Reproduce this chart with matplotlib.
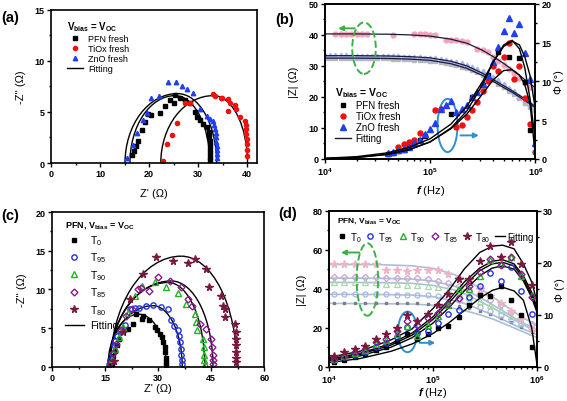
import numpy as np
import matplotlib
matplotlib.use('Agg')
import matplotlib.pyplot as plt
from matplotlib.patches import Arc, Ellipse
from matplotlib.lines import Line2D
from matplotlib.ticker import MultipleLocator, LogLocator, NullFormatter

plt.rcParams['font.family'] = ['Liberation Sans', 'DejaVu Sans']
plt.rcParams['font.weight'] = 'bold'
plt.rcParams['mathtext.fontset'] = 'custom'
plt.rcParams['mathtext.rm'] = 'Liberation Sans'
plt.rcParams['mathtext.it'] = 'Liberation Sans:italic:bold'
plt.rcParams['mathtext.bf'] = 'Liberation Sans:bold'
plt.rcParams['mathtext.default'] = 'regular'

nan = np.nan

# ---------------- (a) Nyquist, fresh devices ----------------
a_pfn_x = [16.6, 16.9, 17.3, 17.8, 18.5, 19.2, 19.7, 20.5, 22.2, 23.3, 24.3, 25.1, 25.3, 26.3, 27.3,
           28.4, 29.4, 29.7, 30.4, 31.1, 31.8, 32.2, 32.3, 32.4, 32.4, 32.4, 32.5, 32.5, 32.5]
a_pfn_y = [0.8, 1.2, 1.7, 2.2, 3.2, 4.0, 4.8, 4.7, 4.9, 5.6, 6.2, 5.9, 6.7, 6.4, 6.2,
           5.9, 5.0, 4.5, 4.2, 3.8, 3.5, 3.0, 2.6, 2.2, 1.8, 1.4, 1.0, 0.6, 0.3]
a_tio_x = [22.9, 23.7, 24.6, 25.8, 27.3, 28.3, 33.1, 33.5, 34.6, 34.8, 36.2, 36.5, 36.2, 37.6, 37.8,
           38.6, 39.6, 39.7, 39.8, 39.8, 39.9, 39.9, 40.0, 40.0]
a_tio_y = [0.2, 1.9, 2.7, 3.9, 5.9, 5.9, 6.8, 6.6, 6.4, 6.4, 6.3, 5.9, 5.1, 5.7, 5.3,
           4.5, 4.1, 3.7, 3.3, 2.8, 2.4, 1.9, 1.3, 0.7]
a_zno_x = [15.6, 16.8, 17.6, 18.8, 19.5, 20.3, 22.1, 23.9, 25.5, 26.7, 27.8, 28.9, 30.4, 31.8, 32.4,
           33.0, 33.3, 33.5, 33.6, 33.7, 33.7, 33.8, 33.8, 33.8, 33.8]
a_zno_y = [0.5, 1.8, 2.9, 4.2, 4.9, 6.4, 6.6, 7.9, 7.9, 7.5, 7.2, 6.9, 5.3, 4.6, 4.3,
           4.1, 3.7, 3.3, 2.9, 2.5, 2.1, 1.7, 1.3, 0.9, 0.5]
# fitted arcs: start, peak position, end, peak height  (PFN, TiOx, ZnO)
a_fit_start = [16.1, 22.4, 15.1]
a_fit_peak = [25.3, 33.1, 25.8]
a_fit_end = [32.4, 40.1, 33.8]
a_fit_h = [6.6, 6.6, 6.8]

# ---------------- (b) Bode, fresh devices ----------------
fb = [1.00e4, 1.12e4, 1.26e4, 1.41e4, 1.58e4, 1.78e4, 2.00e4, 2.24e4, 2.51e4, 2.82e4,
      3.16e4, 3.55e4, 3.98e4, 4.47e4, 5.01e4, 5.62e4, 6.31e4, 7.08e4, 7.94e4, 8.91e4,
      1.00e5, 1.12e5, 1.26e5, 1.41e5, 1.58e5, 1.78e5, 2.00e5, 2.24e5, 2.51e5, 2.82e5,
      3.16e5, 3.55e5, 3.98e5, 4.47e5, 5.01e5, 5.62e5, 6.31e5, 7.08e5, 7.94e5, 8.91e5, 1.00e6]
b_zno_z = [33.4, 33.4, 33.4, 33.4, 33.4, 33.3, 33.3, 33.3, 33.3, 33.3,
           33.2, 33.2, 33.2, 33.1, 33.1, 33.0, 33.0, 32.9, 32.8, 32.7,
           32.6, 32.4, 32.2, 32.0, 31.7, 31.3, 30.9, 30.4, 29.8, 29.1,
           28.3, 27.4, 26.4, 25.3, 24.2, 23.0, 21.8, 20.4, 19.0, 17.6, 16.3]
b_pfn_z = [32.6, 32.6, 32.6, 32.6, 32.6, 32.5, 32.5, 32.5, 32.5, 32.5,
           32.4, 32.4, 32.4, 32.3, 32.3, 32.2, 32.1, 32.0, 31.9, 31.8,
           31.7, 31.5, 31.3, 31.0, 30.7, 30.3, 29.8, 29.3, 28.7, 28.0,
           27.2, 26.3, 25.3, 24.3, 23.2, 22.0, 20.8, 19.5, 18.2, 16.8, 15.8]
b_tio_z = [nan, nan, 40.3, 40.3, 40.3, 40.3, 40.3, 40.3, 40.3, nan,
           nan, nan, nan, 40.0, nan, nan, nan, 40.2, 40.2, 40.2,
           40.1, 40.0, nan, 38.4, 38.3, 38.2, 38.0, 37.8, nan, 35.5,
           35.0, 34.4, 33.0, 31.6, 30.2, 29.0, 27.6, 26.1, 24.6, 23.3, 22.5]
b_zno_p = [nan, nan, nan, nan, nan, nan, nan, nan, nan, nan,
           nan, nan, 0.8, 0.9, 1.1, 1.3, 1.6, 2.0, 2.5, 3.2,
           3.9, 4.6, 6.5, 6.9, 7.5, 6.0, 6.5, 6.9, 8.0, 8.6,
           9.7, 10.7, 12.5, 14.4, 16.5, 18.2, 16.3, 17.4, 13.7, 10.3, 2.0]
b_pfn_p = [nan, nan, nan, nan, nan, nan, nan, nan, nan, nan,
           nan, nan, 0.7, 0.8, 1.0, 1.2, 1.5, 1.9, 2.4, 3.0,
           nan, nan, nan, nan, 5.8, nan, nan, nan, 8.0, nan,
           9.6, 10.8, nan, 13.8, nan, 13.1, nan, 13.0, 9.9, 3.7, nan]
b_tio_p = [nan, nan, nan, nan, nan, nan, nan, nan, nan, nan,
           nan, nan, nan, nan, 1.6, 1.9, 2.2, 2.5, 3.3, nan,
           nan, 6.3, 6.5, nan, nan, 4.1, 4.4, 5.4, 6.3, 7.3,
           8.8, 10.0, 12.0, 11.4, 13.1, 15.0, 10.3, 12.0, 7.8, 4.5, 0.9]
fb_fit = [1.00e4, 2.00e4, 3.98e4, 6.31e4, 1.00e5, 1.58e5, 2.24e5, 3.16e5, 3.98e5, 5.01e5,
          6.03e5, 7.08e5, 7.94e5, 8.91e5, 1.00e6]
b_pfn_zfit = [32.5, 32.5, 32.4, 32.2, 31.8, 30.7, 29.2, 26.9, 25.0, 23.0, 21.5, 20.0, 18.9, 17.7, 16.5]
b_tio_zfit = [40.3, 40.3, 40.2, 40.0, 39.6, 38.6, 37.3, 35.0, 33.0, 30.8, 28.8, 27.0, 25.6, 24.3, 23.0]
b_zno_zfit = [33.3, 33.3, 33.2, 33.0, 32.6, 31.5, 30.0, 27.6, 25.6, 23.6, 22.0, 20.5, 19.4, 18.2, 17.0]
b_pfn_pfit = [0.1, 0.3, 0.8, 1.5, 2.6, 4.5, 6.8, 10.0, 12.5, 14.5, 15.2, 14.7, 13.2, 10.8, 6.5]
b_tio_pfit = [0.05, 0.2, 0.6, 1.2, 2.2, 3.9, 5.8, 8.4, 10.2, 11.4, 11.5, 10.8, 9.6, 7.2, 0.5]
b_zno_pfit = [0.05, 0.2, 0.6, 1.2, 2.2, 4.0, 6.2, 9.6, 12.5, 14.7, 15.3, 14.2, 11.8, 7.8, 2.5]

# ---------------- (c) Nyquist, PFN aged ----------------
c_t0_x = [16.8, 17.0, 17.3, 17.7, 18.3, 19.0, 20.0, 21.5, 22.9, 23.6, 25.3, 25.7, 27.5, 29.0, 29.6,
          30.4, 31.0, 31.5, 31.8, 32.0, 32.1, 32.1, 32.2]
c_t0_y = [0.4, 0.9, 1.4, 2.0, 2.8, 3.6, 4.6, 4.9, 5.5, 6.8, 6.2, 6.6, 6.0, 5.1, 4.7,
          4.3, 3.8, 3.2, 2.5, 1.9, 1.2, 0.6, 0.2]
c_t95_x = [16.2, 16.5, 16.8, 17.4, 17.9, 18.4, 19.3, 20.5, 21.9, 23.5, 24.7, 26.5, 28.5, 30.8, 32.7,
           33.7, 34.6, 35.6, 36.0, 36.3, 36.5, 36.5, 36.6, 36.6]
c_t95_y = [0.3, 0.9, 1.7, 2.8, 3.4, 4.0, 4.6, 5.4, 7.5, 7.6, 7.6, 7.8, 8.0, 7.7, 7.5,
           6.0, 5.3, 4.7, 4.0, 3.2, 2.3, 1.5, 0.9, 0.4]
c_t90_x = [17.0, 17.8, 18.8, 20.0, 21.5, 23.3, 25.5, 29.0, 32.3, 35.6, 37.9, 40.3, 40.8, 41.1, 42.6,
           42.9, 43.1, 43.1, 43.2]
c_t90_y = [1.0, 2.3, 3.8, 5.2, 7.0, 9.2, 10.5, 10.9, 10.3, 9.6, 8.1, 6.8, 5.8, 4.7, 3.6,
           2.5, 1.5, 0.9, 0.4]
c_t85_x = [16.5, 17.2, 18.0, 19.5, 21.0, 22.5, 24.2, 25.2, 27.5, 29.9, 33.2, 36.5, 38.4, 39.5, 41.7,
           43.6, 45.0, 45.3, 45.5, 45.5, 45.6]
c_t85_y = [0.5, 1.8, 3.0, 4.8, 6.6, 7.5, 10.0, 10.2, 9.8, 11.6, 11.1, 10.3, 8.8, 7.8, 5.5,
           4.9, 3.6, 2.5, 1.5, 0.9, 0.4]
c_t80_x = [17.4, 20.0, 21.9, 25.8, 29.5, 34.2, 38.4, 40.3, 43.6, 44.5, 47.8, 48.3, 48.8, 48.8, 51.6,
           51.9, 52.1, 52.1, 52.1, 52.1, 51.9]
c_t80_y = [0.7, 4.5, 8.8, 12.0, 14.2, 13.7, 13.4, 13.9, 12.6, 10.3, 9.2, 7.9, 7.5, 6.4, 5.5,
           4.5, 3.6, 2.8, 1.9, 1.2, 0.6]
# fitted arcs (T0, T95, T90, T85, T80)
c_fit_start = [15.8, 16.0, 16.2, 16.3, 16.5]
c_fit_peak = [24.5, 28.5, 32.8, 33.7, 36.5]
c_fit_end = [32.3, 36.8, 43.2, 45.5, 52.3]
c_fit_h = [6.8, 7.9, 10.9, 11.1, 14.3]

# ---------------- (d) Bode, PFN aged ----------------
fd = [1.12e4, 1.41e4, 1.78e4, 2.24e4, 2.82e4, 3.55e4, 4.47e4, 5.62e4, 7.08e4, 8.91e4,
      1.12e5, 1.41e5, 1.78e5, 2.24e5, 2.82e5, 3.55e5, 4.47e5, 5.62e5, 7.08e5, 8.91e5]
d_t0_z = [32.6, 32.6, 32.6, 32.6, 32.6, 32.6, 32.6, 32.6, 32.5, 32.4,
          32.2, 31.8, 31.0, 30.0, 28.6, 27.0, 25.0, 22.8, 20.4, 18.0]
d_t95_z = [37.3, 37.3, 37.3, 37.3, 37.3, 37.1, 37.0, 36.9, 36.8, 36.6,
           36.3, 35.5, 34.3, 32.8, 30.8, 28.6, 26.5, 24.0, 21.8, 19.5]
d_t90_z = [43.3, 43.3, 43.3, 43.3, 43.3, 42.5, 42.3, 42.0, 41.8, 41.5,
           40.8, 39.5, 38.0, 36.0, 34.0, 31.5, 29.0, 26.0, 22.8, 20.0]
d_t85_z = [46.2, 46.2, 46.2, 46.2, 46.2, 45.6, 45.6, 45.6, 45.4, 45.0,
           44.2, 43.0, 41.5, 39.5, 37.2, 34.5, 31.5, 28.2, 24.8, 21.8]
d_t80_z = [52.6, 52.6, 52.6, 52.6, 52.6, 49.8, 49.8, 49.4, 49.8, 49.8,
           49.6, 47.7, 45.5, 43.5, 40.0, 36.5, 32.5, 28.5, 24.5, 19.5]
d_t0_p = [1.0, 1.4, 1.9, 2.4, 3.2, 3.9, 4.9, 6.3, 5.3, 6.3, 7.5, 7.9, 9.6, 11.8, 13.9, 13.6, 15.5, 12.9, 9.9, 3.8]
d_t95_p = [1.3, 1.8, 2.3, 2.9, 3.9, 4.6, 5.8, 7.6, 6.6, 6.8, 8.4, 10.2, 11.0, 13.4, 15.5, 18.0, 16.6, 19.2, 14.6, 10.2]
d_t90_p = [1.5, 2.0, 2.6, 3.3, 4.4, 5.1, 6.4, 7.8, 6.0, 8.0, 9.8, 11.8, 15.0, 15.0, 17.5, 20.5, 19.8, 21.2, 17.5, 13.9]
d_t85_p = [1.6, 2.1, 2.8, 3.5, 4.7, 5.4, 6.9, 8.8, 8.1, 9.4, 10.4, 12.1, 13.3, 15.5, 18.2, 20.8, 19.6, 21.2, 17.8, 13.4]
d_t80_p = [2.1, 2.8, 3.4, 4.0, 5.3, 6.3, 7.4, 10.0, 8.8, 10.1, 11.8, 14.1, 16.9, 16.9, 20.3, 23.2, 21.2, 24.0, 19.8, 15.7]
fd_zfit = [1.00e4, 3.16e4, 6.31e4, 1.00e5, 1.58e5, 2.00e5, 2.51e5, 3.16e5, 3.98e5, 5.01e5, 6.31e5, 7.94e5, 1.00e6]
d_t0_zfit = [32.5, 32.4, 32.2, 31.6, 30.0, 28.9, 27.5, 25.9, 24.0, 21.8, 19.5, 17.2, 15.0]
d_t95_zfit = [37.2, 37.1, 36.8, 36.0, 34.0, 32.5, 30.5, 28.3, 26.0, 23.5, 21.0, 18.7, 16.5]
d_t90_zfit = [43.3, 43.2, 42.8, 41.8, 39.5, 37.5, 35.0, 32.3, 29.5, 26.5, 23.5, 20.7, 18.0]
d_t85_zfit = [45.5, 45.4, 45.0, 44.0, 41.5, 39.5, 37.0, 34.2, 31.0, 27.8, 24.5, 21.6, 19.0]
d_t80_zfit = [52.5, 52.4, 51.8, 50.5, 47.5, 45.0, 42.0, 38.6, 35.0, 31.2, 27.5, 24.2, 21.0]
fd_pfit = [1.00e4, 2.00e4, 3.98e4, 6.31e4, 1.00e5, 1.41e5, 2.00e5, 2.82e5, 3.72e5, 4.68e5,
           6.03e5, 7.41e5, 8.91e5, 1.00e6]
d_t0_pfit = [0.8, 1.6, 3.0, 4.4, 6.4, 8.4, 10.8, 13.2, 14.7, 15.3, 14.6, 12.8, 7.5, 0.5]
d_t95_pfit = [1.1, 2.1, 3.8, 5.6, 8.4, 11.3, 14.6, 17.5, 19.0, 19.4, 18.8, 16.5, 13.3, 10.5]
d_t90_pfit = [1.3, 2.4, 4.2, 6.1, 9.1, 12.2, 15.6, 18.5, 19.8, 20.1, 19.4, 17.0, 13.8, 11.0]
d_t85_pfit = [1.5, 2.6, 4.5, 6.5, 9.6, 12.8, 16.3, 19.0, 20.3, 20.6, 19.8, 17.5, 14.3, 11.5]
d_t80_pfit = [1.8, 3.0, 5.2, 7.3, 11.2, 14.6, 18.8, 22.0, 23.2, 23.4, 22.7, 19.8, 16.3, 12.5]

GREEN = '#3cb043'
CYAN = '#2f8fcf'
LEG = {'weight': 'normal', 'size': 6.5}


def style(ax, fs=6.5):
    ax.tick_params(which='both', direction='out', top=False, right=False, labelsize=fs, width=1, pad=1.5)
    ax.tick_params(which='major', length=3)
    ax.tick_params(which='minor', length=1.5)
    for s in ax.spines.values():
        s.set_linewidth(1.2)


def half_arcs(ax, start, peak, end, h):
    for s, p, e, hh in zip(start, peak, end, h):
        ax.add_patch(Arc((p, 0), 2 * (p - s), 2 * hh, theta1=90, theta2=180, color='k', lw=1))
        ax.add_patch(Arc((p, 0), 2 * (e - p), 2 * hh, theta1=0, theta2=90, color='k', lw=1))


def log_x(ax):
    ax.set_xscale('log')
    ax.set_xlim(1e4, 1e6)
    ax.set_xticks([1e4, 1e5, 1e6])
    ax.set_xticklabels(['10$^{4}$', '10$^{5}$', '10$^{6}$'])
    ax.xaxis.set_minor_locator(LogLocator(base=10, subs=np.arange(2, 10)))
    ax.xaxis.set_minor_formatter(NullFormatter())


fig = plt.figure(figsize=(5.67, 4.02), dpi=100)

# ---- (a)
ax = fig.add_axes([0.090, 0.592, 0.363, 0.381])
style(ax)
ax.plot(a_pfn_x, a_pfn_y, 's', color='k', ms=2.8, label='PFN fresh')
ax.plot(a_tio_x, a_tio_y, 'o', color='#f01010', ms=3, label='TiOx fresh')
ax.plot(a_zno_x, a_zno_y, '^', color='#2040f0', ms=3.2, label='ZnO fresh')
half_arcs(ax, a_fit_start, a_fit_peak, a_fit_end, a_fit_h)
ax.set_xlim(0, 42)
ax.set_ylim(0, 15)
ax.xaxis.set_major_locator(MultipleLocator(10))
ax.xaxis.set_minor_locator(MultipleLocator(5))
ax.yaxis.set_major_locator(MultipleLocator(5))
ax.yaxis.set_minor_locator(MultipleLocator(2.5))
ax.set_xlabel("Z' (\u03a9)", fontsize=8, labelpad=7)
ax.set_ylabel("-Z'' (\u03a9)", fontsize=8, labelpad=6)
h, l = ax.get_legend_handles_labels()
h.append(Line2D([], [], color='k', lw=1))
l.append('Fitting')
ax.legend(h, l, loc='upper left', bbox_to_anchor=(0.06, 0.96), frameon=False, prop=LEG,
          title='V$_{bias}$ = V$_{OC}$', title_fontproperties={'weight': 'bold', 'size': 7},
          alignment='left', handlelength=1.8, handletextpad=0.5, labelspacing=0.1, borderaxespad=0)

# ---- (b)
ax = fig.add_axes([0.573, 0.602, 0.371, 0.386])
ax2 = ax.twinx()
style(ax)
style(ax2)
ax2.tick_params(which='both', right=True, left=False)
ax.tick_params(which='both', right=False)
log_x(ax)
ax.plot(fb, b_tio_z, 'o', color='#f5a3b8', ms=3.5)
ax.plot(fb, b_pfn_z, 's', color='#b8b8b8', ms=3)
ax.plot(fb, b_zno_z, '^', color='#a8b4ee', ms=3.5)
for z in [b_pfn_zfit, b_tio_zfit, b_zno_zfit]:
    ax.plot(fb_fit, z, '-', color='#1a1a3a', lw=0.9)
ax.set_ylim(0, 50)
ax.yaxis.set_major_locator(MultipleLocator(10))
ax.yaxis.set_minor_locator(MultipleLocator(5))
ax.set_ylabel('|Z| (\u03a9)', fontsize=8, labelpad=7)
ax.set_xlabel('$\\it{f}$ (Hz)', fontsize=8, labelpad=4)
p1, = ax2.plot(fb, b_pfn_p, 's', color='k', ms=3.2)
p2, = ax2.plot(fb, b_tio_p, 'o', color='#f01010', ms=3.6)
p3, = ax2.plot(fb, b_zno_p, '^', color='#2040f0', ms=4)
for p in [b_pfn_pfit, b_tio_pfit, b_zno_pfit]:
    ax2.plot(fb_fit, p, '-', color='k', lw=1)
ax2.set_ylim(0, 20)
ax2.yaxis.set_major_locator(MultipleLocator(5))
ax2.yaxis.set_minor_locator(MultipleLocator(2.5))
ax2.set_ylabel('\u03a6 (\u00b0)', fontsize=8, labelpad=2)
ax2.add_patch(Ellipse((0.186, 0.714), 0.112, 0.332, transform=ax2.transAxes, fill=False,
                      ls='--', lw=1.4, color=GREEN))
ax2.annotate('', xy=(0.05, 0.842), xytext=(0.155, 0.842), xycoords='axes fraction',
             arrowprops=dict(arrowstyle='-|>', color=GREEN, lw=1.4, mutation_scale=7))
ax2.add_patch(Ellipse((0.583, 0.216), 0.095, 0.343, transform=ax2.transAxes, fill=False,
                      lw=1.4, color=CYAN))
ax2.annotate('', xy=(0.745, 0.152), xytext=(0.631, 0.152), xycoords='axes fraction',
             arrowprops=dict(arrowstyle='-|>', color=CYAN, lw=1.4, mutation_scale=7))
ax2.legend([p1, p2, p3, Line2D([], [], color='#1a1a3a', lw=1)],
           ['PFN fresh', 'TiOx fresh', 'ZnO fresh', 'Fitting'],
           loc='upper left', bbox_to_anchor=(0.03, 0.5), frameon=False,
           prop={'weight': 'normal', 'size': 7}, title='V$_{bias}$ = V$_{OC}$',
           title_fontproperties={'weight': 'bold', 'size': 7.5}, alignment='left',
           handlelength=1.6, handletextpad=0.5, labelspacing=0.1, borderaxespad=0)

# ---- (c)
ax = fig.add_axes([0.092, 0.085, 0.374, 0.385])
style(ax)
m0, = ax.plot(c_t0_x, c_t0_y, 's', color='k', ms=3.2)
m1, = ax.plot(c_t95_x, c_t95_y, 'o', color='#2233dd', mfc='none', mew=1, ms=3.8)
m2, = ax.plot(c_t90_x, c_t90_y, '^', color='#22b422', mfc='none', mew=1, ms=4)
m3, = ax.plot(c_t85_x, c_t85_y, 'D', color='#8a1a8a', mfc='none', mew=1, ms=3.5)
m4, = ax.plot(c_t80_x, c_t80_y, '*', color='#7a1840', ms=5.5)
half_arcs(ax, c_fit_start, c_fit_peak, c_fit_end, c_fit_h)
ax.set_xlim(0, 60)
ax.set_ylim(0, 20)
ax.xaxis.set_major_locator(MultipleLocator(15))
ax.xaxis.set_minor_locator(MultipleLocator(7.5))
ax.yaxis.set_major_locator(MultipleLocator(5))
ax.yaxis.set_minor_locator(MultipleLocator(2.5))
ax.set_xlabel("Z' (\u03a9)", fontsize=8, labelpad=1)
ax.set_ylabel("-Z'' (\u03a9)", fontsize=8, labelpad=6)
ax.legend([m0, m1, m2, m3, m4, Line2D([], [], color='k', lw=1)],
          ['T$_{0}$', 'T$_{95}$', 'T$_{90}$', 'T$_{85}$', 'T$_{80}$', 'Fitting'],
          loc='upper left', bbox_to_anchor=(0.04, 0.985), frameon=False,
          prop={'weight': 'normal', 'size': 7.5}, title='PFN, V$_{bias}$ = V$_{OC}$',
          title_fontproperties={'weight': 'bold', 'size': 6.5}, alignment='left',
          handlelength=1.8, handletextpad=0.6, labelspacing=0.35, borderaxespad=0)

# ---- (d)
ax = fig.add_axes([0.580, 0.085, 0.367, 0.388])
ax2 = ax.twinx()
style(ax)
style(ax2)
ax2.tick_params(which='both', right=True, left=False)
ax.tick_params(which='both', right=False)
log_x(ax)
for z in [d_t0_zfit, d_t95_zfit, d_t90_zfit, d_t85_zfit, d_t80_zfit]:
    ax.plot(fd_zfit, z, '-', color='#a9c0d6', lw=1.2)
ax.plot(fd, d_t0_z, 's', color='#7c7c8c', ms=2)
ax.plot(fd, d_t95_z, 'o', color='#a9b6ee', mfc='none', mew=0.9, ms=3.6)
ax.plot(fd, d_t90_z, '^', color='#a6dba6', mfc='none', mew=0.9, ms=3.8)
ax.plot(fd, d_t85_z, 'D', color='#c9a6d6', mfc='none', mew=0.9, ms=3.3)
ax.plot(fd, d_t80_z, '*', color='#f0b3c6', ms=5.5)
ax.set_ylim(0, 80)
ax.yaxis.set_major_locator(MultipleLocator(20))
ax.yaxis.set_minor_locator(MultipleLocator(10))
ax.set_ylabel('|Z| (\u03a9)', fontsize=8, labelpad=4)
ax.set_xlabel('$\\it{f}$ (Hz)', fontsize=8, labelpad=0)
for p in [d_t0_pfit, d_t95_pfit, d_t90_pfit, d_t85_pfit, d_t80_pfit]:
    ax2.plot(fd_pfit, p, '-', color='k', lw=1)
n0, = ax2.plot(fd, d_t0_p, 's', color='k', ms=3.2)
n1, = ax2.plot(fd, d_t95_p, 'o', color='#2233dd', mfc='none', mew=1, ms=3.8)
n2, = ax2.plot(fd, d_t90_p, '^', color='#22b422', mfc='none', mew=1, ms=4)
n3, = ax2.plot(fd, d_t85_p, 'D', color='#8a1a8a', mfc='none', mew=1, ms=3.5)
n4, = ax2.plot(fd, d_t80_p, '*', color='#7a1840', ms=5.5)
ax2.set_ylim(0, 30)
ax2.yaxis.set_major_locator(MultipleLocator(10))
ax2.yaxis.set_minor_locator(MultipleLocator(5))
ax2.set_ylabel('\u03a6 (\u00b0)', fontsize=8, labelpad=1)
ax2.add_patch(Ellipse((0.185, 0.56), 0.103, 0.465, transform=ax2.transAxes, fill=False,
                      ls='--', lw=1.4, color=GREEN))
ax2.annotate('', xy=(0.045, 0.733), xytext=(0.16, 0.733), xycoords='axes fraction',
             arrowprops=dict(arrowstyle='-|>', color=GREEN, lw=1.4, mutation_scale=7))
ax2.add_patch(Ellipse((0.378, 0.224), 0.092, 0.26, transform=ax2.transAxes, fill=False,
                      lw=1.4, color=CYAN))
ax2.annotate('', xy=(0.525, 0.154), xytext=(0.423, 0.154), xycoords='axes fraction',
             arrowprops=dict(arrowstyle='-|>', color=CYAN, lw=1.4, mutation_scale=7))
ax2.legend([n0, n1, n2, n3, n4, Line2D([], [], color='k', lw=1)],
           ['T$_{0}$', 'T$_{95}$', 'T$_{90}$', 'T$_{85}$', 'T$_{80}$', 'Fitting'],
           loc='upper left', bbox_to_anchor=(0.02, 0.995), frameon=False, ncol=6,
           prop={'weight': 'normal', 'size': 7}, title='PFN, V$_{bias}$ = V$_{OC}$',
           title_fontproperties={'weight': 'bold', 'size': 6}, alignment='left',
           handlelength=1.0, handletextpad=0.3, columnspacing=0.45, borderaxespad=0)

fig.text(0.002, 0.972, '(a)', fontsize=10.5, weight='bold', va='top')
fig.text(0.485, 0.968, '(b)', fontsize=10.5, weight='bold', va='top')
fig.text(0.002, 0.48, '(c)', fontsize=10.5, weight='bold', va='top')
fig.text(0.490, 0.485, '(d)', fontsize=10.5, weight='bold', va='top')

fig.savefig('out.png', dpi=100)
